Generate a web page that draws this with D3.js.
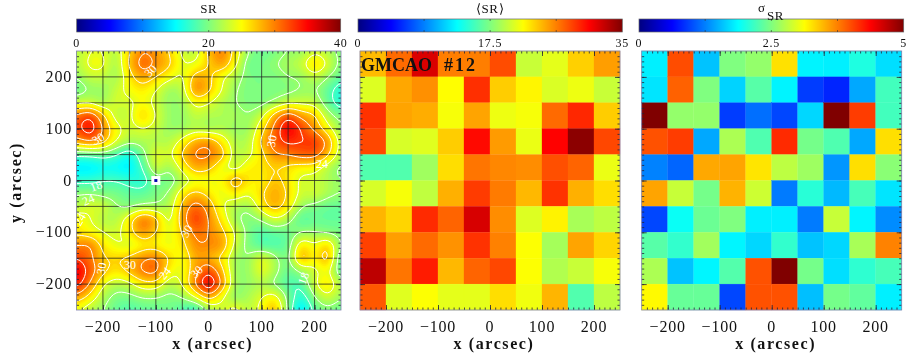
<!DOCTYPE html>
<html>
<head>
<meta charset="utf-8">
<script src="https://cdn.jsdelivr.net/npm/d3@7"></script>
<style>
html, body { margin: 0; padding: 0; background: #fff; }
svg { display: block; filter: blur(0.5px); }
text { font-family: "Liberation Serif", serif; fill: #111; }
</style>
</head>
<body>
<svg width="910" height="354"></svg>
<script>
// SR map, rows from y = 250 down to y = -250, columns from x = -250 to 250 (25 arcsec step)
var srRows = [
  [22,24,24,22,27,30,29,27,23,22,28,31,26,21,19,20,21,21,23,22,20],
  [22,25,25,21,28,32,30,28,24,24,27,30,25,19,20,21,22,23,28,24,20],
  [21,23,23,21,26,29,27,25,23,29,28,24,22,20,20,20,21,21,23,21,19],
  [19,21,21,23,25,26,24,21,22,31,28,24,21,20,20,20,20,21,21,19,16],
  [23,23,21,24,23,25,23,21,21,25,24,22,21,20,20,21,23,23,23,19,16],
  [31,34,28,22,23,28,24,21,21,23,22,22,22,21,23,29,33,29,28,22,20],
  [32,36,30,25,23,24,23,21,21,22,21,22,21,21,26,31,37,33,29,25,21],
  [29,31,29,24,22,22,22,22,25,29,30,26,22,22,28,32,34,33,34,30,22],
  [18,18,19,18,15,20,25,23,28,31,31,29,22,23,26,30,30,32,32,28,22],
  [14,14,15,15,14,18,24,21,25,29,28,24,22,26,26,27,26,25,25,22,20],
  [17,17,18,18,17,16,20,19,22,24,24,25,30,26,25,28,26,23,23,22,21],
  [21,21,20,20,19,19,20,21,26,28,26,24,26,24,27,29,27,23,24,22,21],
  [22,24,24,21,20,21,21,22,28,32,29,24,22,21,26,29,26,21,20,19,19],
  [26,24,22,22,26,32,29,22,29,34,30,26,21,20,21,24,22,18,19,19,19],
  [26,25,24,23,26,30,27,24,27,31,30,28,24,20,18,19,19,21,21,20,20],
  [30,31,26,24,23,25,25,24,26,30,30,30,23,20,18,18,19,27,24,28,20],
  [33,31,27,27,28,30,31,27,24,29,28,26,21,21,25,22,19,30,25,30,17],
  [37,32,28,26,28,31,32,25,24,29,33,28,21,21,25,22,19,21,23,25,18],
  [35,30,24,22,23,26,26,22,24,31,38,30,21,21,22,20,18,18,24,27,22],
  [29,26,22,20,20,21,21,20,21,24,29,24,20,22,24,26,20,16,21,24,21],
  [24,22,21,19,18,19,19,20,18,16,21,23,26,22,25,29,20,13,19,20,19]
];
// the one very low pixel in the SR map
var srDipX = [-100];
var srDipY = [0];
var srDipValue = [2];

var contourLevels = [18, 21, 24, 27, 30, 33, 36];
var contourLabels = [
  ["30", -110, 212, -45], ["30", -209, 81, -30], ["30", 119, 76, -80], ["24", 214, 32, 0],
  ["18", -213, -10, -20], ["24", -228, -37, -25], ["30", -149, -162, 0], ["30", -42, -98, -60],
  ["30", -23, -176, -45], ["24", -83, -179, -50], ["18", 179, -189, -70], ["30", -203, -170, -80],
  ["24", -244, -75, -60]
];

// binned maps, rows from the top, 50 arcsec cells
var meanRows = [
  [24.2,27,31.9,26.3,26.3,28,20,21,23.5,25.2],
  [20.7,24.9,25.7,21.9,29,23.6,22.2,20.6,21.3,20],
  [28.9,25,24.7,21.6,25,21.3,21.6,27,29.3,23.6],
  [28.2,20.5,20.8,23.6,30.3,25.3,21.2,30.6,34.6,28.2],
  [15.9,15.9,18.6,23,26.6,26,25.8,27.9,27.2,21.2],
  [20.5,21.6,19.7,24.6,28.6,26.4,24.3,28.9,24.6,23],
  [24.4,23.3,29.2,27.2,32,25.8,20.7,22.3,18.9,19.6],
  [28.4,25.2,27,25.6,28.9,26.2,21.8,18.8,25,23.3],
  [32.9,26.6,29.7,24.3,27.2,28.2,21.8,19.2,20,21.6],
  [27.6,20.8,21.8,21,21,23,21.4,24.4,15.9,19.6]
];
var sigmaRows = [
  [1.8,4,1.58,2.5,2.6,3.27,1.82,1.8,2.02,1.72],
  [1.75,3.9,2.5,1.66,2.3,1.82,0.92,0.8,1.45,2.2],
  [5,2.6,2.6,0.92,1.17,0.97,1.68,5,4.08,2.2],
  [3.98,4.08,1.45,2.72,2.26,4.17,2.45,2.26,1.45,3.28],
  [1.26,1.12,3.55,3.57,3.25,2.8,2.65,1.36,3.28,2.55],
  [3.57,2.85,2.45,3.5,2.88,1.23,2.07,1.53,2.22,1.75],
  [0.97,1.92,2.4,2.5,1.8,1.8,1.23,2.85,1.83,1.31],
  [2.3,2.12,2.67,1.83,1.68,2.12,1.58,1.68,2.7,3.74],
  [2.72,1.58,1.83,2.28,3.98,5,2.45,1.72,2.1,2.22],
  [3.15,2.38,2.38,0.97,3.98,3.98,1.56,2.45,2.35,1.8]
];

var axisTicks = [-200, -100, 0, 100, 200];
var barTicks1 = [0, 20, 40];
var barTicks2 = [0, 17.5, 35];
var barTicks3 = [0, 2.5, 5];

// jet colour table
var jetStops = [0, 0.125, 0.375, 0.625, 0.875, 1];
var jetColors = ["#000080", "#0000ff", "#00ffff", "#ffff00", "#ff0000", "#800000"];
var jet = d3.scaleLinear().domain(jetStops).range(jetColors).clamp(true);

var svg = d3.select("svg");
var top_ = 51, bottom_ = 310;
var y = d3.scaleLinear().domain([-250, 250]).range([bottom_, top_]);

var defs = svg.append("defs");
var grad = defs.append("linearGradient").attr("id", "jetGrad");
jetStops.forEach(function(s, i) {
  grad.append("stop").attr("offset", s).attr("stop-color", jetColors[i]);
});

function colorBar(x0, x1, max, ticks, fmt) {
  var b = d3.scaleLinear().domain([0, max]).range([x0, x1]);
  svg.append("rect").attr("x", x0).attr("y", 19).attr("width", x1 - x0).attr("height", 13)
    .attr("fill", "url(#jetGrad)").attr("stroke", "#666").attr("stroke-width", 0.7);
  // small ticks on the bar edges at the quarters
  [0.25, 0.5, 0.75].forEach(function(q) {
    svg.append("line").attr("x1", b(q * max)).attr("x2", b(q * max)).attr("y1", 19).attr("y2", 21).attr("stroke", "#333").attr("stroke-width", 0.6);
    svg.append("line").attr("x1", b(q * max)).attr("x2", b(q * max)).attr("y1", 30).attr("y2", 32).attr("stroke", "#333").attr("stroke-width", 0.6);
  });
  svg.selectAll(null).data(ticks).enter().append("text")
    .attr("x", function(d) { return b(d); })
    .attr("y", 47)
    .attr("text-anchor", "middle")
    .attr("font-size", 12)
    .attr("letter-spacing", 0.8)
    .text(fmt);
}

function frame(x, withLabels) {
  var r = x.range();
  var major = axisTicks;
  var minor = d3.range(-240, 250, 10);
  function style(g) {
    g.select(".domain").remove();
    g.selectAll("line").attr("stroke", "#223").attr("stroke-width", 0.8);
  }
  // major and minor ticks on all four sides, all pointing in
  [[d3.axisBottom(x), bottom_, 0], [d3.axisTop(x), top_, 0], [d3.axisLeft(y), 0, r[0]], [d3.axisRight(y), 0, r[1]]].forEach(function(a) {
    var g1 = svg.append("g").attr("transform", "translate(" + a[2] + "," + a[1] + ")");
    g1.call(a[0].tickValues(minor).tickSize(-2.5).tickFormat(""));
    style(g1);
    g1.selectAll("text").remove();
    var g2 = svg.append("g").attr("transform", "translate(" + a[2] + "," + a[1] + ")");
    g2.call(a[0].tickValues(major).tickSize(-5).tickFormat(""));
    style(g2);
    g2.selectAll("text").remove();
  });
  svg.append("rect").attr("x", r[0]).attr("y", top_).attr("width", r[1] - r[0]).attr("height", bottom_ - top_)
    .attr("fill", "none").attr("stroke", "#8080b0").attr("stroke-width", 0.8);

  svg.selectAll(null).data(major).enter().append("text")
    .attr("x", function(d) { return x(d); })
    .attr("y", 332)
    .attr("text-anchor", "middle")
    .attr("font-size", 16)
    .attr("letter-spacing", 0.8)
    .text(d3.format("d"));
  svg.append("text")
    .attr("x", (r[0] + r[1]) / 2 + 4).attr("y", 349)
    .attr("text-anchor", "middle")
    .attr("font-size", 16).attr("font-weight", "bold").attr("letter-spacing", 1.6)
    .text("x (arcsec)");

  if (withLabels) {
    svg.selectAll(null).data(major).enter().append("text")
      .attr("x", 72)
      .attr("y", function(d) { return y(d) + 5; })
      .attr("text-anchor", "end")
      .attr("font-size", 16)
      .attr("letter-spacing", 0.8)
      .text(d3.format("d"));
    svg.append("text")
      .attr("transform", "translate(21," + ((top_ + bottom_) / 2 + 2) + ") rotate(-90)")
      .attr("text-anchor", "middle")
      .attr("font-size", 16).attr("font-weight", "bold").attr("letter-spacing", 1.6)
      .text("y (arcsec)");
  }
}

function cellMap(x, rows, max) {
  var cells = [];
  rows.forEach(function(row, j) {
    row.forEach(function(v, i) {
      cells.push({ x: -250 + i * 50, y: 250 - j * 50, v: v });
    });
  });
  svg.append("g").selectAll("rect").data(cells).enter().append("rect")
    .attr("x", function(d) { return x(d.x); })
    .attr("y", function(d) { return y(d.y); })
    .attr("width", function(d) { return x(d.x + 50) - x(d.x); })
    .attr("height", function(d) { return y(d.y - 50) - y(d.y); })
    .attr("fill", function(d) { return jet(d.v / max); })
    .attr("stroke", function(d) { return jet(d.v / max); })
    .attr("stroke-width", 0.3);
}

// ---------- panel 1: SR contour map
var x1 = d3.scaleLinear().domain([-250, 250]).range([76.5, 341]);
var nCols = srRows[0].length, nRows = srRows.length;

// display only: resample the read values finer and soften, so contours come out round
var fine = 5;
var fCols = (nCols - 1) * fine + 1, fRows = (nRows - 1) * fine + 1;
var flat = new Float64Array(fCols * fRows);
for (var j = 0; j < fRows; j++) {
  for (var i = 0; i < fCols; i++) {
    var c = i / fine, r = j / fine;
    var c0 = Math.min(Math.floor(c), nCols - 2), r0 = Math.min(Math.floor(r), nRows - 2);
    var tc = c - c0, tr = r - r0;
    flat[j * fCols + i] = (1 - tr) * ((1 - tc) * srRows[r0][c0] + tc * srRows[r0][c0 + 1])
      + tr * ((1 - tc) * srRows[r0 + 1][c0] + tc * srRows[r0 + 1][c0 + 1]);
  }
}
d3.blur2({ data: flat, width: fCols, height: fRows }, 1.2);

defs.append("clipPath").attr("id", "srClip").append("rect")
  .attr("x", 76.5).attr("y", top_).attr("width", 341 - 76.5).attr("height", bottom_ - top_);

// d3.contours has grid nodes at i + 0.5
var gx = d3.scaleLinear().domain([0.5, fCols - 0.5]).range(x1.domain());
var gy = d3.scaleLinear().domain([0.5, fRows - 0.5]).range([250, -250]);
var path = d3.geoPath(d3.geoTransform({
  point: function(a, b) { this.stream.point(x1(gx(a)), y(gy(b))); }
}));
var contours = d3.contours().size([fCols, fRows]).smooth(true);

var srG = svg.append("g").attr("clip-path", "url(#srClip)");
srG.append("rect").attr("x", 76.5).attr("y", top_).attr("width", 341 - 76.5).attr("height", bottom_ - top_).attr("fill", jet(10 / 40));
srG.selectAll("path.band").data(contours.thresholds(d3.range(10, 40.1, 0.4))(flat)).enter().append("path")
  .attr("class", "band")
  .attr("d", path)
  .attr("fill", function(d) { return jet(d.value / 40); });

var grid = d3.range(-200, 201, 50);
srG.selectAll("line.gx").data(grid).enter().append("line").attr("class", "gx")
  .attr("x1", function(d) { return x1(d); }).attr("x2", function(d) { return x1(d); })
  .attr("y1", top_).attr("y2", bottom_)
  .attr("stroke", "#222").attr("stroke-width", 0.9).attr("stroke-opacity", 0.85);
srG.selectAll("line.gy").data(grid).enter().append("line").attr("class", "gy")
  .attr("y1", function(d) { return y(d); }).attr("y2", function(d) { return y(d); })
  .attr("x1", 76.5).attr("x2", 341)
  .attr("stroke", "#222").attr("stroke-width", 0.9).attr("stroke-opacity", 0.85);

srG.selectAll("path.level").data(contours.thresholds(contourLevels)(flat)).enter().append("path")
  .attr("class", "level")
  .attr("d", path)
  .attr("fill", "none")
  .attr("stroke", "#fff")
  .attr("stroke-width", 1);

srDipX.forEach(function(dx, i) {
  srG.append("rect")
    .attr("x", x1(dx - 5.7)).attr("y", y(srDipY[i] + 5.7))
    .attr("width", x1(dx + 5.7) - x1(dx - 5.7)).attr("height", y(srDipY[i] - 5.7) - y(srDipY[i] + 5.7))
    .attr("fill", jet(srDipValue[i] / 40))
    .attr("stroke", "#fff").attr("stroke-width", 3);
});

srG.selectAll("text").data(contourLabels).enter().append("text")
  .attr("transform", function(d) { return "translate(" + x1(d[1]) + "," + y(d[2]) + ") rotate(" + d[3] + ")"; })
  .attr("text-anchor", "middle").attr("dy", "0.35em")
  .attr("font-size", 12)
  .style("fill", "#fff")
  .text(function(d) { return d[0]; });

frame(x1, true);
colorBar(76.7, 340.7, 40, barTicks1, d3.format("d"));
svg.append("text").attr("x", 208.7).attr("y", 13).attr("text-anchor", "middle").attr("font-size", 13).attr("letter-spacing", 0.6).text("SR");

// ---------- panel 2: mean SR
var x2 = d3.scaleLinear().domain([-250, 250]).range([360, 620]);
cellMap(x2, meanRows, 35);
frame(x2, false);
colorBar(358, 622.3, 35, barTicks2, function(d) { return String(d); });
svg.append("text").attr("x", 490).attr("y", 13).attr("text-anchor", "middle").attr("font-size", 13).attr("letter-spacing", 0.6).text("\u27e8SR\u27e9");
svg.append("text").attr("x", 361).attr("y", 71).attr("font-size", 18).attr("font-weight", "bold").style("fill", "#111").text("GMCAO");
svg.append("text").attr("x", 444).attr("y", 71).attr("font-size", 18).attr("font-weight", "bold").attr("letter-spacing", 2).style("fill", "#111").text("#12");

// ---------- panel 3: sigma SR
var x3 = d3.scaleLinear().domain([-250, 250]).range([641.7, 901.7]);
cellMap(x3, sigmaRows, 5);
frame(x3, false);
colorBar(639, 903.7, 5, barTicks3, function(d) { return String(d); });
svg.append("text").attr("x", 758).attr("y", 12).attr("font-size", 13).text("\u03c3");
svg.append("text").attr("x", 767).attr("y", 20).attr("font-size", 13).attr("letter-spacing", 0.6).text("SR");
</script>
</body>
</html>
